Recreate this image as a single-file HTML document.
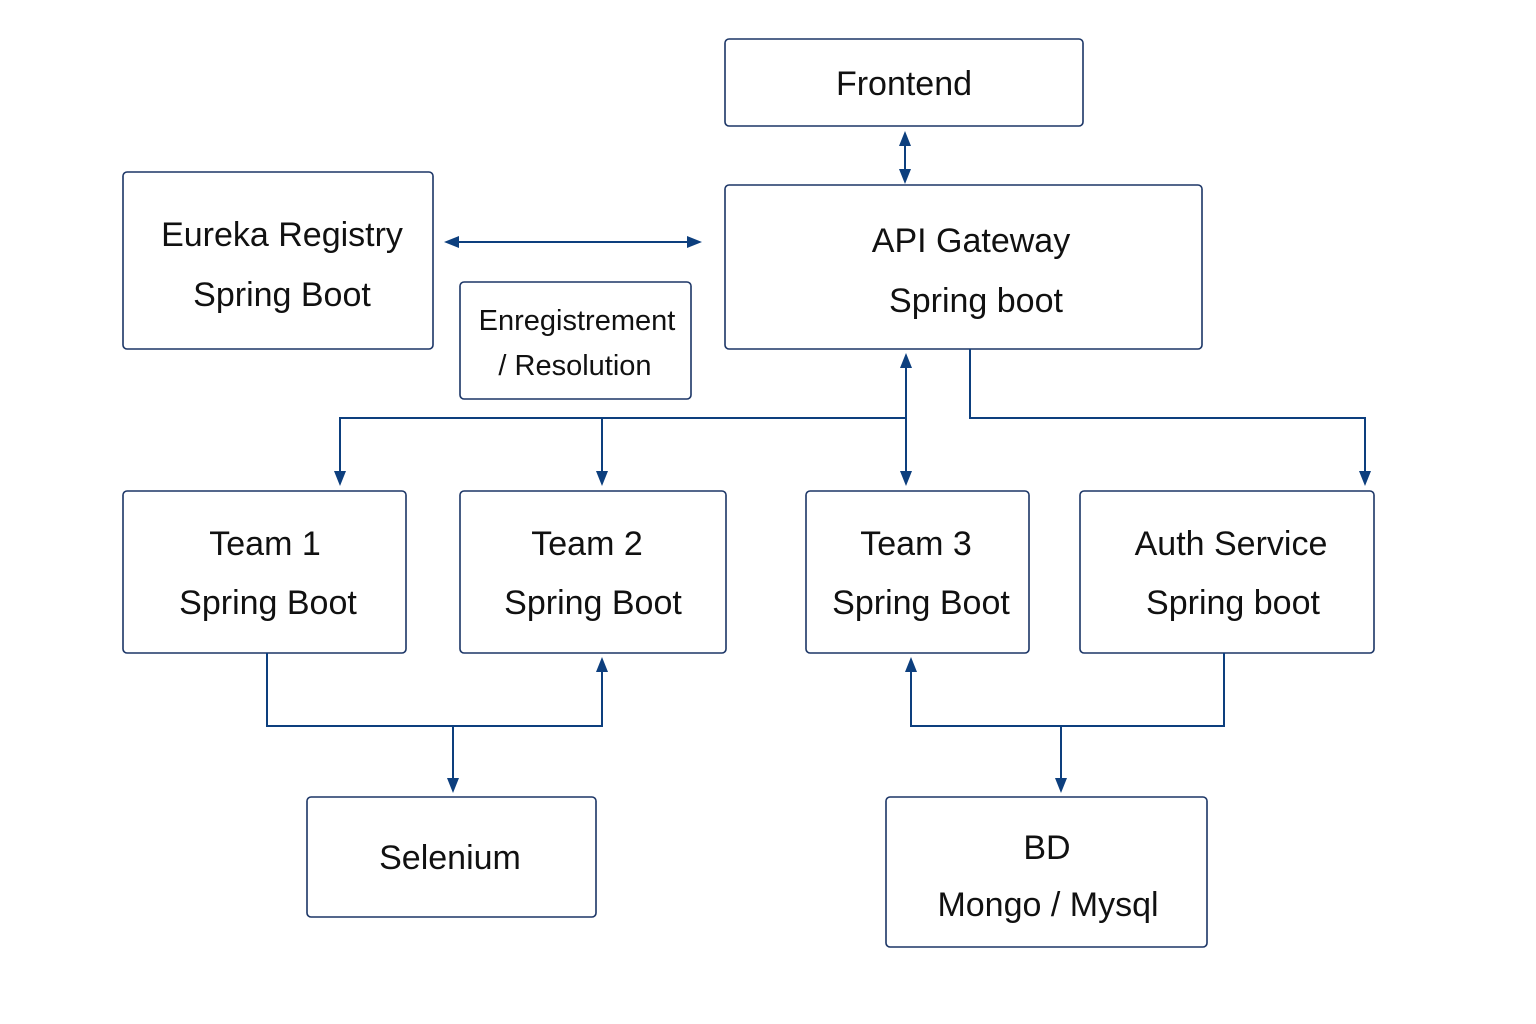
<!DOCTYPE html>
<html><head><meta charset="utf-8"><style>
html,body{margin:0;padding:0;background:#fff;}
svg{display:block;}
text{font-family:"Liberation Sans","DejaVu Sans",sans-serif;fill:#111;text-anchor:middle;}
</style></head><body>
<svg width="1536" height="1024" viewBox="0 0 1536 1024" xmlns="http://www.w3.org/2000/svg">
<defs>
<marker id="a" viewBox="0 0 10 10" refX="10" refY="5" markerWidth="5" markerHeight="5" orient="auto-start-reverse" markerUnits="userSpaceOnUse">
</marker>
</defs>
<g fill="#fff" stroke="#1b3566" stroke-width="1.6">
<rect x="725" y="39" width="358" height="87" rx="4"/>
<rect x="123" y="172" width="310" height="177" rx="4"/>
<rect x="460" y="282" width="231" height="117" rx="4"/>
<rect x="725" y="185" width="477" height="164" rx="4"/>
<rect x="123" y="491" width="283" height="162" rx="4"/>
<rect x="460" y="491" width="266" height="162" rx="4"/>
<rect x="806" y="491" width="223" height="162" rx="4"/>
<rect x="1080" y="491" width="294" height="162" rx="4"/>
<rect x="307" y="797" width="289" height="120" rx="4"/>
<rect x="886" y="797" width="321" height="150" rx="4"/>
</g>
<g fill="none" stroke="#0d3f7e" stroke-width="2">
<line x1="905" y1="140" x2="905" y2="172"/>
<line x1="457" y1="242" x2="689" y2="242"/>
<line x1="906" y1="366" x2="906" y2="472"/>
<polyline points="340,472 340,418 906,418"/>
<line x1="602" y1="418" x2="602" y2="472"/>
<polyline points="970,349 970,418 1365,418 1365,472"/>
<polyline points="267,653 267,726 602,726 602,670"/>
<line x1="453" y1="726" x2="453" y2="780"/>
<polyline points="911,670 911,726 1224,726 1224,653"/>
<line x1="1061" y1="726" x2="1061" y2="780"/>
</g>
<g fill="#0d3f7e">
<polygon points="905,131 899,146 911,146"/>
<polygon points="905,184 899,169 911,169"/>
<polygon points="444,242 459,236 459,248"/>
<polygon points="702,242 687,236 687,248"/>
<polygon points="906,353 900,368 912,368"/>
<polygon points="906,486 900,471 912,471"/>
<polygon points="340,486 334,471 346,471"/>
<polygon points="602,486 596,471 608,471"/>
<polygon points="1365,486 1359,471 1371,471"/>
<polygon points="602,657 596,672 608,672"/>
<polygon points="453,793 447,778 459,778"/>
<polygon points="911,657 905,672 917,672"/>
<polygon points="1061,793 1055,778 1067,778"/>
</g>
<g font-size="34">
<text x="904" y="95">Frontend</text>
<text x="282" y="246">Eureka Registry</text>
<text x="282" y="306">Spring Boot</text>
<text x="971" y="252">API Gateway</text>
<text x="976" y="312">Spring boot</text>
<text x="265" y="555">Team 1</text>
<text x="268" y="614">Spring Boot</text>
<text x="587" y="555">Team 2</text>
<text x="593" y="614">Spring Boot</text>
<text x="916" y="555">Team 3</text>
<text x="921" y="614">Spring Boot</text>
<text x="1231" y="555">Auth Service</text>
<text x="1233" y="614">Spring boot</text>
<text x="450" y="869">Selenium</text>
<text x="1047" y="859">BD</text>
<text x="1048" y="916">Mongo / Mysql</text>
</g>
<g font-size="29">
<text x="577" y="330">Enregistrement</text>
<text x="575" y="375">/ Resolution</text>
</g>
</svg>
</body></html>
